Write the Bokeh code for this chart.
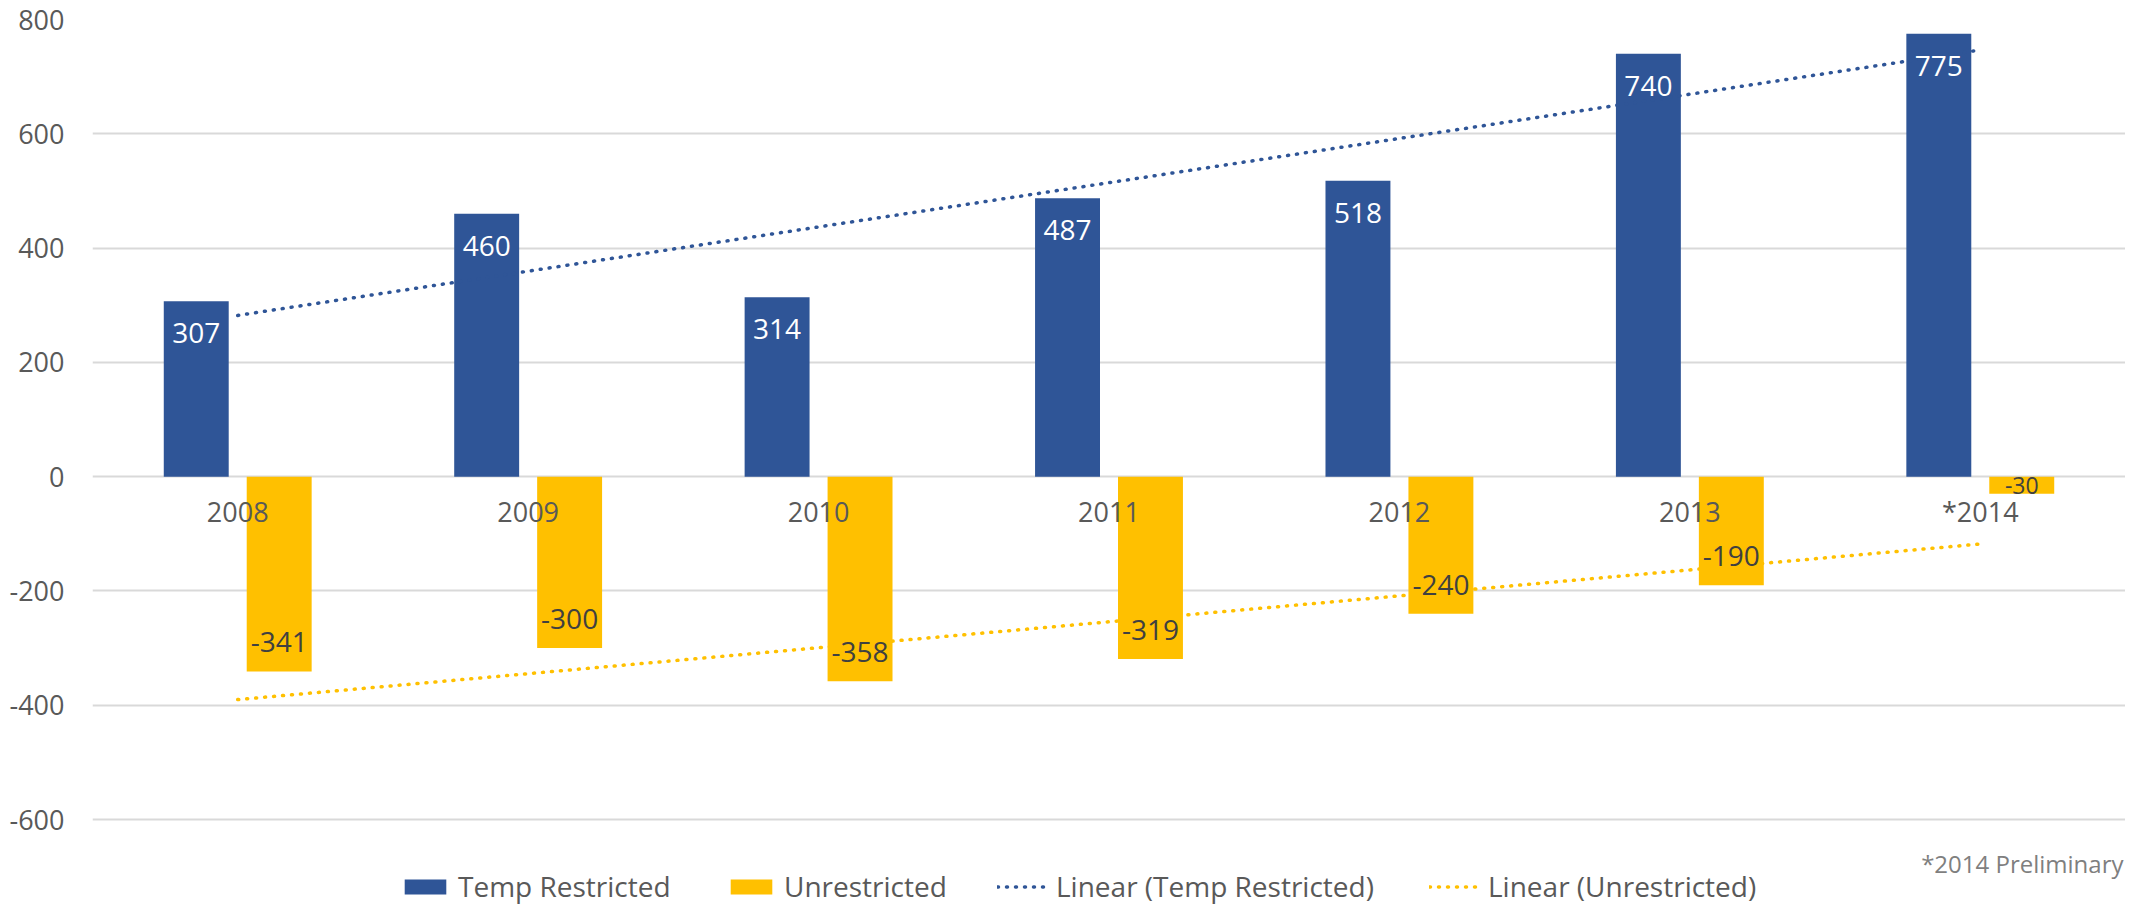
import numpy as np
from bokeh.plotting import figure
from bokeh.models import (ColumnDataSource, FactorRange, Range1d, FixedTicker,
                          Legend, LegendItem, Label)
from bokeh.transform import dodge
from bokeh.core.properties import value
from bokeh.embed import file_html
from bokeh.resources import INLINE

# ---- data ----
categories = ["2008", "2009", "2010", "2011", "2012", "2013", "*2014"]
temp_restricted = [307, 460, 314, 487, 518, 740, 775]
unrestricted = [-341, -300, -358, -319, -240, -190, -30]
y_ticks = [-600, -400, -200, 0, 200, 400, 600, 800]
legend_labels = ["Temp Restricted", "Unrestricted",
                 "Linear (Temp Restricted)", "Linear (Unrestricted)"]
footnote = "*2014 Preliminary"

BLUE = "#2F5597"
GOLD = "#FFC000"
GRID = "#D9D9D9"
AXIS_TXT = "#595959"
FONT = "Open Sans"

W, H = 2125, 905
TOP = 19          # frame top (px)
# -600 sits at 819px from the top of the figure, 800 at the frame top
px_per_unit = (819 - TOP) / 1400.0
y_min = -600 - (H - 819) / px_per_unit

p = figure(width=W, height=H, x_range=FactorRange(*categories),
           y_range=Range1d(y_min, 800), output_backend="svg",
           toolbar_location=None, min_border_left=92, min_border_right=0,
           min_border_top=TOP, min_border_bottom=0)
p.outline_line_color = None
p.background_fill_color = "white"
p.border_fill_color = "white"
p.xgrid.grid_line_color = None
p.ygrid.grid_line_color = GRID
p.ygrid.grid_line_width = 2

# y axis
p.yaxis.ticker = FixedTicker(ticks=y_ticks)
p.yaxis.major_label_overrides = {v: str(v) for v in y_ticks}
p.yaxis.axis_line_color = None
p.yaxis.major_tick_line_color = None
p.yaxis.minor_tick_line_color = None
p.yaxis.major_tick_out = 0
p.yaxis.major_label_standoff = 28
p.yaxis.major_label_text_font = FONT
p.yaxis.major_label_text_font_size = "27px"
p.yaxis.major_label_text_color = AXIS_TXT

p.xaxis.visible = False

src = ColumnDataSource(dict(
    cat=categories,
    zero=[0] * len(categories),
    temp=temp_restricted,
    unr=unrestricted,
    temp_lbl=[str(v) for v in temp_restricted],
    unr_lbl=[str(v) for v in unrestricted],
    temp_ly=[v - 56 for v in temp_restricted],
    unr_ly=[min(v + 51, v / 2) for v in unrestricted],
    unr_fs=["28px" if abs(v) > 60 else "23px" for v in unrestricted],
))

OFF = 0.1428
BW = 0.2236
r_temp = p.vbar(x=dodge("cat", -OFF, range=p.x_range), top="temp", bottom=0,
                width=BW, source=src, fill_color=BLUE, line_color=None)
r_unr = p.vbar(x=dodge("cat", OFF, range=p.x_range), top="unr", bottom=0,
               width=BW, source=src, fill_color=GOLD, line_color=None)

# category labels sitting under the zero line
p.text(x="cat", y="zero", text="cat", source=src, y_offset=35,
       text_color=AXIS_TXT, text_font=value(FONT), text_font_size="27px",
       text_align="center", text_baseline="middle")

# linear trend lines (least squares fit of each series)
idx = np.arange(len(categories))
bt, at = np.polyfit(idx, temp_restricted, 1)
bu, au = np.polyfit(idx, unrestricted, 1)
tx = [categories[0], categories[-1]]
r_tt = p.line(x=tx, y=[at + bt * idx[0], at + bt * idx[-1]], line_color=BLUE,
              line_width=3.5, line_dash="1 8", line_cap="round")
r_tu = p.line(x=tx, y=[au + bu * idx[0], au + bu * idx[-1]], line_color=GOLD,
              line_width=3.5, line_dash="1 8", line_cap="round")

# data labels
p.text(x=dodge("cat", -OFF, range=p.x_range), y="temp_ly", text="temp_lbl",
       source=src, text_color="white", text_font=value(FONT),
       text_font_size="28px", text_align="center", text_baseline="middle")
p.text(x=dodge("cat", OFF, range=p.x_range), y="unr_ly", text="unr_lbl",
       source=src, text_color="#404040", text_font=value(FONT),
       text_font_size="unr_fs", text_align="center", text_baseline="middle")

# legend entries along the bottom, one legend per entry for exact placement
legend_x = [307, 633, 905, 1337]
for lbl, rend, lx in zip(legend_labels, [r_temp, r_unr, r_tt, r_tu], legend_x):
    lg = Legend(items=[LegendItem(label=lbl, renderers=[rend])],
                orientation="horizontal", location=(lx, 0), padding=0,
                margin=0, spacing=0, glyph_width=52, glyph_height=19,
                label_height=19, label_standoff=7, label_text_font=FONT,
                label_text_font_size="28px", label_text_color=AXIS_TXT,
                border_line_color=None, background_fill_alpha=0)
    p.add_layout(lg)

# footnote at the bottom right
p.add_layout(Label(x=W - 92 - 2, y=42, x_units="screen", y_units="screen",
                   text=footnote, text_font=FONT, text_font_size="24px",
                   text_color="#7F7F7F", text_baseline="middle",
                   text_align="right"))

open("out.html", "w").write(file_html(p, INLINE))
